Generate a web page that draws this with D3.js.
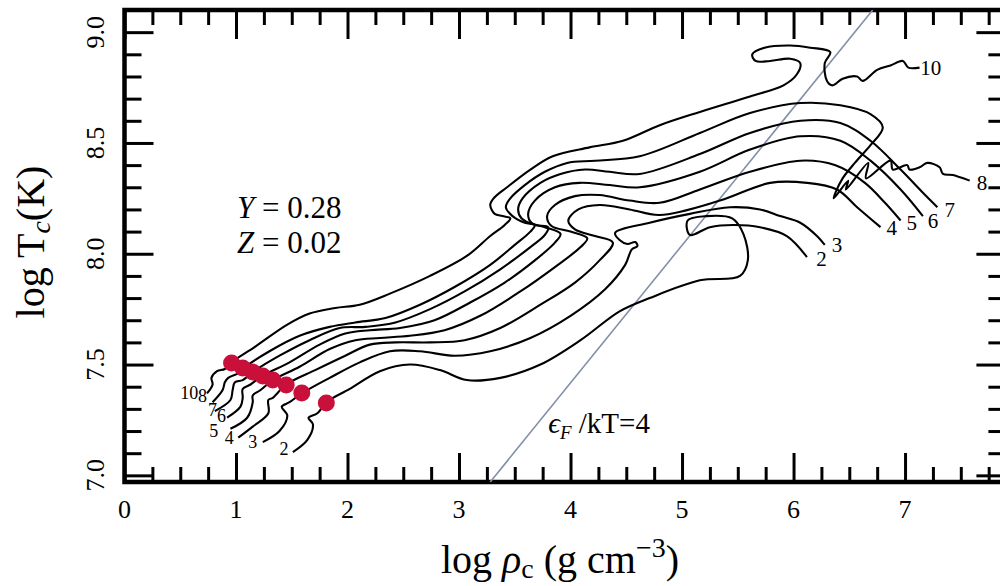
<!DOCTYPE html>
<html><head><meta charset="utf-8">
<script src="https://cdn.jsdelivr.net/npm/d3@7"></script>
<style>
html,body{margin:0;padding:0;background:#fff;overflow:hidden}
svg{display:block;font-family:"Liberation Serif","Times New Roman",serif}
</style></head><body>
<svg id="chart" width="1000" height="586"></svg>
<script>
// ---- data (log rho_c [g cm^-3], log T_c [K]) ----
const masses = ["2","3","4","5","6","7","8","10"];
const track2 = [[1.51,7.105],[1.64,7.16],[1.69,7.23],[1.65,7.26],[1.73,7.28],[1.81,7.33],[2.02,7.39],[2.29,7.47],[2.56,7.50],[2.83,7.475],[3.07,7.43],[3.37,7.44],[3.73,7.50],[4.09,7.61],[4.44,7.74],[4.71,7.80],[5.16,7.88],[5.52,7.90],[5.59,7.97],[5.55,8.09],[5.45,8.16],[5.22,8.17],[5.05,8.15],[5.07,8.085],[5.25,8.12],[5.46,8.13],[5.70,8.12],[5.94,8.08],[6.12,7.985]];
const track3 = [[1.24,7.15],[1.39,7.20],[1.46,7.27],[1.41,7.31],[1.48,7.33],[1.59,7.37],[1.84,7.44],[2.11,7.51],[2.38,7.56],[2.65,7.56],[2.96,7.54],[3.28,7.56],[3.64,7.62],[4.00,7.72],[4.31,7.84],[4.49,7.95],[4.55,8.02],[4.60,8.035],[4.58,8.053],[4.51,8.044],[4.44,8.062],[4.40,8.094],[4.71,8.14],[5.07,8.18],[5.43,8.21],[5.70,8.20],[5.88,8.17],[6.06,8.14],[6.21,8.08],[6.28,8.04]];
const track4 = [[1.02,7.17],[1.15,7.22],[1.29,7.28],[1.29,7.34],[1.33,7.35],[1.45,7.41],[1.71,7.475],[1.98,7.54],[2.20,7.59],[2.43,7.60],[2.74,7.60],[3.05,7.61],[3.37,7.665],[3.73,7.77],[4.04,7.87],[4.26,7.97],[4.38,8.05],[4.22,8.08],[4.04,8.11],[3.98,8.15],[4.07,8.20],[4.26,8.22],[4.53,8.20],[4.80,8.175],[5.34,8.24],[5.79,8.32],[6.12,8.32],[6.39,8.29],[6.57,8.21],[6.78,8.12]];
const track5 = [[0.95,7.21],[1.10,7.26],[1.15,7.33],[1.15,7.36],[1.22,7.385],[1.33,7.43],[1.57,7.49],[1.84,7.57],[2.07,7.61],[2.29,7.62],[2.56,7.63],[2.87,7.655],[3.19,7.72],[3.55,7.83],[3.86,7.94],[4.09,8.03],[4.15,8.07],[4.00,8.10],[3.83,8.125],[3.79,8.17],[3.86,8.22],[4.04,8.26],[4.26,8.265],[4.53,8.24],[4.80,8.23],[5.16,8.29],[5.61,8.37],[6.06,8.42],[6.37,8.40],[6.64,8.32],[6.82,8.23],[6.96,8.15]];
const track6 = [[0.92,7.26],[1.04,7.31],[1.06,7.35],[1.06,7.39],[1.13,7.41],[1.24,7.45],[1.48,7.51],[1.75,7.59],[1.98,7.64],[2.20,7.655],[2.47,7.665],[2.78,7.70],[3.10,7.78],[3.41,7.87],[3.68,7.97],[3.86,8.05],[3.91,8.09],[3.77,8.12],[3.65,8.14],[3.62,8.18],[3.68,8.24],[3.86,8.30],[4.08,8.32],[4.35,8.31],[4.62,8.30],[5.16,8.37],[5.61,8.47],[6.06,8.53],[6.42,8.51],[6.69,8.42],[6.96,8.29],[7.16,8.17]];
const track7 = [[0.81,7.29],[0.95,7.34],[0.97,7.385],[0.99,7.42],[1.06,7.43],[1.15,7.466],[1.39,7.54],[1.66,7.61],[1.93,7.665],[2.16,7.67],[2.43,7.69],[2.74,7.75],[3.05,7.83],[3.37,7.93],[3.64,8.03],[3.77,8.085],[3.80,8.12],[3.68,8.13],[3.56,8.16],[3.53,8.20],[3.57,8.25],[3.73,8.32],[3.91,8.36],[4.13,8.38],[4.35,8.37],[4.62,8.36],[5.16,8.45],[5.61,8.545],[6.06,8.60],[6.42,8.59],[6.69,8.51],[6.96,8.38],[7.18,8.265],[7.29,8.21]];
const track8 = [[0.79,7.33],[0.88,7.385],[0.90,7.42],[0.93,7.44],[1.04,7.465],[1.06,7.48],[1.30,7.56],[1.57,7.63],[1.84,7.67],[2.07,7.69],[2.34,7.71],[2.65,7.77],[2.96,7.85],[3.28,7.95],[3.50,8.04],[3.64,8.10],[3.68,8.13],[3.59,8.14],[3.48,8.17],[3.42,8.21],[3.46,8.25],[3.59,8.31],[3.77,8.37],[3.97,8.41],[4.22,8.42],[4.62,8.44],[5.16,8.545],[5.61,8.635],[6.06,8.68],[6.42,8.67],[6.69,8.63],[6.80,8.57],[6.69,8.49],[6.55,8.41],[6.44,8.34],[6.38,8.28],[6.36,8.25],[6.49,8.33],[6.47,8.29],[6.67,8.41],[6.65,8.34],[6.87,8.42],[6.89,8.38],[7.02,8.40],[7.04,8.38],[7.13,8.39],[7.20,8.41],[7.31,8.39],[7.34,8.36],[7.43,8.355],[7.58,8.33]];
const track10 = [[0.74,7.37],[0.79,7.41],[0.78,7.44],[0.83,7.47],[0.90,7.48],[0.96,7.51],[1.17,7.58],[1.46,7.68],[1.66,7.73],[1.89,7.755],[2.11,7.77],[2.38,7.82],[2.74,7.90],[3.07,7.99],[3.28,8.08],[3.41,8.13],[3.46,8.16],[3.39,8.17],[3.32,8.18],[3.28,8.22],[3.31,8.25],[3.43,8.30],[3.64,8.38],[3.84,8.44],[4.17,8.48],[4.47,8.51],[4.80,8.58],[5.16,8.64],[5.61,8.71],[5.91,8.76],[6.03,8.81],[6.06,8.86],[5.97,8.88],[5.79,8.87],[5.66,8.87],[5.63,8.90],[5.74,8.93],[5.97,8.94],[6.15,8.93],[6.33,8.91],[6.28,8.86],[6.30,8.78],[6.35,8.76],[6.44,8.79],[6.57,8.80],[6.62,8.78],[6.75,8.83],[6.87,8.85],[6.98,8.87],[7.03,8.84],[7.13,8.84]];
const tracks = [track2,track3,track4,track5,track6,track7,track8,track10];

// ZAMS points (red dots), same order as masses
const zamsLogRho = [1.81,1.59,1.45,1.33,1.24,1.15,1.06,0.96];
const zamsLogT   = [7.327,7.372,7.408,7.430,7.448,7.466,7.484,7.507];

// mass labels at track starts and ends
const startLabelLogRho = [1.43,1.15,0.94,0.80,0.87,0.79,0.70,0.58];
const startLabelLogT   = [7.12,7.15,7.17,7.20,7.27,7.295,7.358,7.372];
const endLabelLogRho   = [6.25,6.39,6.88,7.06,7.25,7.40,7.69,7.23];
const endLabelLogT     = [7.98,8.04,8.12,8.14,8.15,8.20,8.32,8.84];

// degeneracy line eps_F/kT = 4
const degLogRho = [3.28, 6.71];
const degLogT   = [6.97, 9.10];

const xTickValues = [0,1,2,3,4,5,6,7];
const xTickLabels = ["0","1","2","3","4","5","6","7"];
const yTickValues = [7.0,7.5,8.0,8.5,9.0];
const yTickLabels = ["7.0","7.5","8.0","8.5","9.0"];

// ---- drawing ----
const svg = d3.select("#chart");
const x = d3.scaleLinear().domain([0,7.9]).range([124.5,1005.4]);
const y = d3.scaleLinear().domain([6.97,9.1]).range([482,10]);
const X0=x.range()[0], X1=x.range()[1], Y0=y.range()[0], Y1=y.range()[1];

const xMinor = d3.range(0,7.9001,0.25).filter(v=>Math.abs(v-Math.round(v))>1e-6);
const yMinor = d3.range(70,91,1).map(v=>v/10).filter(v=>Math.abs(v*2-Math.round(v*2))>1e-6);

function styleAxis(g){ g.select(".domain").remove(); g.selectAll("line").attr("stroke","#000").attr("stroke-width",3); g.selectAll("text").remove(); }
const MAJ=29, MIN=15;
svg.append("g").attr("transform",`translate(0,${Y0})`).call(d3.axisBottom(x).tickValues(xTickValues).tickSize(-MAJ)).call(styleAxis);
svg.append("g").attr("transform",`translate(0,${Y0})`).call(d3.axisBottom(x).tickValues(xMinor).tickSize(-MIN)).call(styleAxis);
svg.append("g").attr("transform",`translate(0,${Y1})`).call(d3.axisTop(x).tickValues(xTickValues).tickSize(-MAJ)).call(styleAxis);
svg.append("g").attr("transform",`translate(0,${Y1})`).call(d3.axisTop(x).tickValues(xMinor).tickSize(-MIN)).call(styleAxis);
svg.append("g").attr("transform",`translate(${X0},0)`).call(d3.axisLeft(y).tickValues(yTickValues).tickSize(-MAJ)).call(styleAxis);
svg.append("g").attr("transform",`translate(${X0},0)`).call(d3.axisLeft(y).tickValues(yMinor).tickSize(-(MIN+2))).call(styleAxis);
svg.append("g").attr("transform",`translate(${X1},0)`).call(d3.axisRight(y).tickValues(yTickValues).tickSize(-MAJ)).call(styleAxis);
svg.append("g").attr("transform",`translate(${X1},0)`).call(d3.axisRight(y).tickValues(yMinor).tickSize(-(MIN+2))).call(styleAxis);

svg.append("rect").attr("x",X0).attr("y",Y1).attr("width",X1-X0).attr("height",Y0-Y1)
  .attr("fill","none").attr("stroke","#000").attr("stroke-width",4.5);

// tick labels
svg.append("g").selectAll("text").data(xTickValues).join("text")
  .attr("x",d=>x(d)).attr("y",Y0+36).attr("text-anchor","middle")
  .attr("font-size",26).text((d,i)=>xTickLabels[i]);
svg.append("g").selectAll("text").data(yTickValues).join("text")
  .attr("transform",d=>`translate(104,${y(d)}) rotate(-90)`).attr("text-anchor","middle")
  .attr("font-size",26).text((d,i)=>yTickLabels[i]);

// clip
svg.append("clipPath").attr("id","plot").append("rect").attr("x",X0).attr("y",Y1).attr("width",X1-X0).attr("height",Y0-Y1);

const line = d3.line().x(d=>x(d[0])).y(d=>y(d[1])).curve(d3.curveCatmullRom.alpha(0.5));
const plot = svg.append("g").attr("clip-path","url(#plot)");

plot.append("path").datum(degLogRho.map((v,i)=>[v,degLogT[i]]))
  .attr("d",d3.line().x(d=>x(d[0])).y(d=>y(d[1])))
  .attr("fill","none").attr("stroke","#8390a8").attr("stroke-width",1.6);

plot.selectAll(".trk").data(tracks).join("path").attr("class","trk")
  .attr("d",line).attr("fill","none").attr("stroke","#000").attr("stroke-width",2.1)
  .attr("stroke-linejoin","round");

plot.selectAll(".zams").data(zamsLogRho).join("circle").attr("class","zams")
  .attr("cx",d=>x(d)).attr("cy",(d,i)=>y(zamsLogT[i])).attr("r",8.5).attr("fill","#c8103a");

// mass labels
svg.append("g").selectAll("text").data(masses).join("text")
  .attr("x",(d,i)=>x(startLabelLogRho[i])).attr("y",(d,i)=>y(startLabelLogT[i]))
  .attr("dy","0.35em").attr("text-anchor","middle").attr("font-size",18).text(d=>d);
svg.append("g").selectAll("text").data(masses).join("text")
  .attr("x",(d,i)=>x(endLabelLogRho[i])).attr("y",(d,i)=>y(endLabelLogT[i]))
  .attr("dy","0.35em").attr("text-anchor","middle").attr("font-size",21).text(d=>d);

// annotations
const t1 = svg.append("text").attr("x",x(1.01)).attr("y",y(8.16)).attr("font-size",31);
t1.append("tspan").attr("font-style","italic").text("Y");
t1.append("tspan").text(" = 0.28");
const t2 = svg.append("text").attr("x",x(1.01)).attr("y",y(8.003)).attr("font-size",31);
t2.append("tspan").attr("font-style","italic").text("Z");
t2.append("tspan").text(" = 0.02");
const t3 = svg.append("text").attr("x",x(3.80)).attr("y",y(7.19)).attr("font-size",29);
t3.append("tspan").attr("font-style","italic").text("ϵ");
t3.append("tspan").attr("font-style","italic").attr("font-size",19).attr("dy",6).text("F");
t3.append("tspan").attr("dy",-6).text(" /kT=4");

// axis titles
const xt = svg.append("text").attr("x",560).attr("y",573).attr("text-anchor","middle").attr("font-size",40);
xt.append("tspan").text("log ");
xt.append("tspan").attr("font-style","italic").text("ρ");
xt.append("tspan").attr("font-size",28).attr("dy",5).text("c");
xt.append("tspan").attr("dy",-5).text(" (g cm");
xt.append("tspan").attr("font-size",28).attr("dy",-16).text("−3");
xt.append("tspan").attr("dy",16).text(")");
const yt = svg.append("text").attr("transform","translate(44,242) rotate(-90)").attr("text-anchor","middle").attr("font-size",40);
yt.append("tspan").text("log T");
yt.append("tspan").attr("font-style","italic").attr("font-size",28).attr("dy",6).text("c");
yt.append("tspan").attr("dy",-6).text("(K)");
</script>
</body></html>
